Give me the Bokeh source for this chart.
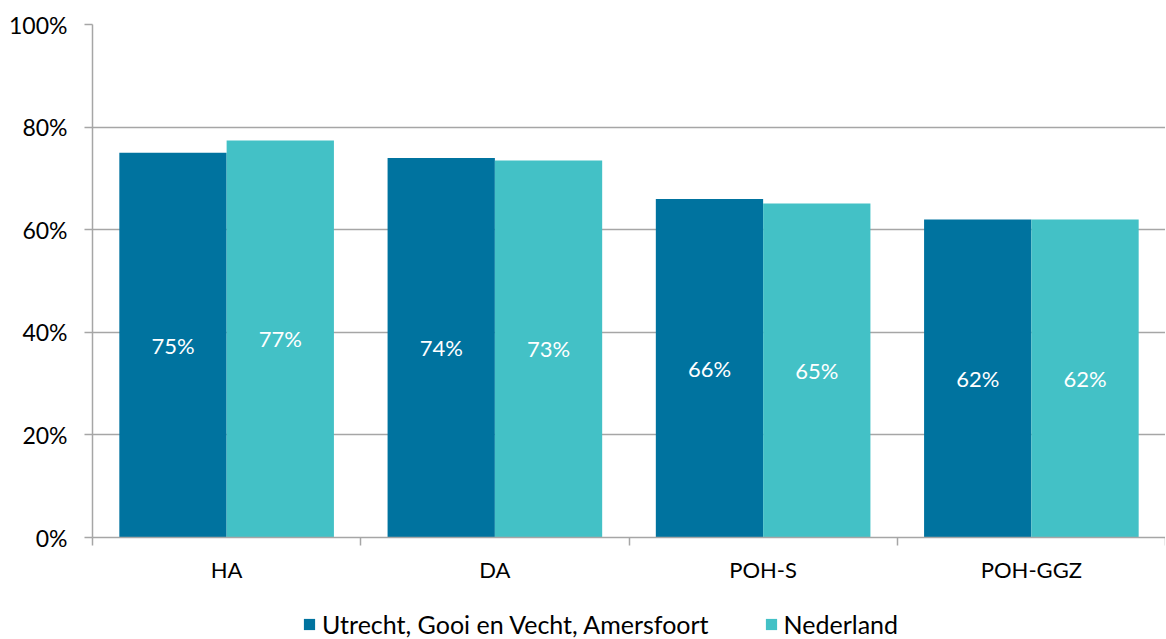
from bokeh.plotting import figure
from bokeh.layouts import column
from bokeh.models import (ColumnDataSource, FixedTicker, Legend, LegendItem,
                          NumeralTickFormatter, Range1d)
from bokeh.embed import file_html
from bokeh.resources import INLINE
from bokeh.core.properties import value

categories = ["HA", "DA", "POH-S", "POH-GGZ"]
series_names = ["Utrecht, Gooi en Vecht, Amersfoort", "Nederland"]
regio = [75, 74, 66, 62]
nederland = [77.4, 73.5, 65.1, 62.0]
regio_labels = ["75%", "74%", "66%", "62%"]
nederland_labels = ["77%", "73%", "65%", "62%"]

BLUE = "#00739f"
CYAN = "#43c1c6"
GRID = "#a6a6a6"
FONT = "Lato"

n = len(categories)
centers = [i + 0.5 for i in range(n)]

src1 = ColumnDataSource(dict(x=[c - 0.2 for c in centers], top=regio,
                             ymid=[v / 2 for v in regio], lab=regio_labels))
src2 = ColumnDataSource(dict(x=[c + 0.2 for c in centers], top=nederland,
                             ymid=[v / 2 for v in nederland], lab=nederland_labels))

p = figure(width=1165, height=609, output_backend="svg", toolbar_location=None,
           x_range=Range1d(0, n), y_range=Range1d(0, 100),
           min_border_left=92, min_border_right=0, min_border_top=24,
           min_border_bottom=72, outline_line_color=None)

r1 = p.vbar(x="x", top="top", width=0.4, source=src1, fill_color=BLUE, line_color=None)
r2 = p.vbar(x="x", top="top", width=0.4, source=src2, fill_color=CYAN, line_color=None)

for src in (src1, src2):
    p.text(x="x", y="ymid", text="lab", source=src, text_color="white",
           text_font=value(FONT), text_font_size="22px",
           text_align="center", text_baseline="middle")

# y axis
p.yaxis.ticker = FixedTicker(ticks=[0, 20, 40, 60, 80, 100], minor_ticks=[])
p.yaxis.formatter = NumeralTickFormatter(format="0")
p.yaxis.major_label_overrides = {0: "0%", 20: "20%", 40: "40%", 60: "60%", 80: "80%", 100: "100%"}
p.yaxis.axis_line_color = GRID
p.yaxis.axis_line_width = 1.5
p.yaxis.major_tick_line_color = GRID
p.yaxis.major_tick_line_width = 1.5
p.yaxis.major_tick_in = 0
p.yaxis.major_tick_out = 8
p.yaxis.minor_tick_line_color = None
p.yaxis.major_label_text_font = FONT
p.yaxis.major_label_text_font_size = "23px"
p.yaxis.major_label_text_color = "#000000"
p.yaxis.major_label_standoff = 17

# x axis: labels at centers, ticks at boundaries
p.xaxis.ticker = FixedTicker(ticks=centers, minor_ticks=list(range(n + 1)))
p.xaxis.major_label_overrides = {c: cat for c, cat in zip(centers, categories)}
p.xaxis.axis_line_color = GRID
p.xaxis.axis_line_width = 1.5
p.xaxis.major_tick_line_color = None
p.xaxis.major_tick_in = 0
p.xaxis.major_tick_out = 0
p.xaxis.minor_tick_line_color = GRID
p.xaxis.minor_tick_line_width = 1.5
p.xaxis.minor_tick_in = 0
p.xaxis.minor_tick_out = 8
p.xaxis.major_label_text_font = FONT
p.xaxis.major_label_text_font_size = "22px"
p.xaxis.major_label_text_color = "#000000"
p.xaxis.major_label_standoff = 10

p.xgrid.grid_line_color = None
p.ygrid.grid_line_color = GRID
p.ygrid.grid_line_width = 1.5

# legend in a separate strip below the chart (its bars lie outside its visible range)
lf = figure(width=1165, height=30, output_backend="svg", toolbar_location=None,
            x_range=Range1d(0, n), y_range=Range1d(200, 201),
            x_axis_type=None, y_axis_type=None, outline_line_color=None,
            min_border_left=0, min_border_right=0, min_border_top=0, min_border_bottom=0)
lf.xgrid.grid_line_color = None
lf.ygrid.grid_line_color = None
l1 = lf.vbar(x="x", top="top", width=0.4, source=src1, fill_color=BLUE, line_color=None)
l2 = lf.vbar(x="x", top="top", width=0.4, source=src2, fill_color=CYAN, line_color=None)

legend = Legend(items=[LegendItem(label=series_names[0], renderers=[l1]),
                       LegendItem(label=series_names[1], renderers=[l2])],
                orientation="horizontal", location=(210, 0),
                label_text_font=FONT, label_text_font_size="25px",
                label_text_color="#000000", glyph_width=14, glyph_height=14,
                label_standoff=6, spacing=55, border_line_color=None,
                background_fill_alpha=0, padding=0, margin=0)
lf.add_layout(legend, "center")

layout = column(p, lf, spacing=0)

with open("out.html", "w") as f:
    f.write(file_html(layout, INLINE))
